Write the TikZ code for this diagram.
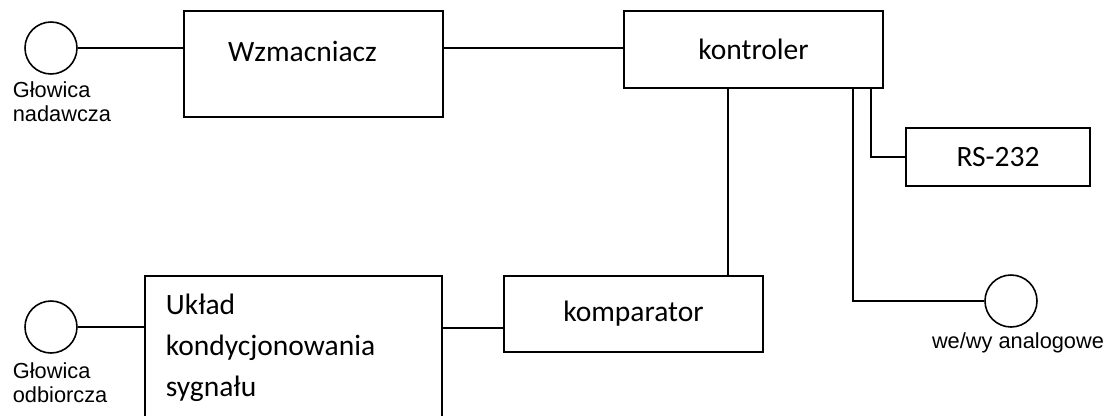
\documentclass[tikz,border=0pt]{standalone}
\usepackage{fontspec}
\setmainfont{Carlito}
\newfontfamily\arialf{Liberation Sans}
\usetikzlibrary{positioning, calc}

\tikzset{
    blok/.style={shape=rectangle, draw=black, line width=1pt, font=\fontsize{16.8}{23.3}\selectfont},
    glowica/.style={shape=circle, draw=black, line width=0.9pt, minimum size=1.04cm, inner sep=0pt},
    opis/.style={inner sep=0pt, align=left, font=\arialf\fontsize{12.4}{13.4}\selectfont},
}

\begin{document}
\begin{tikzpicture}[line width=1pt]
        \useasboundingbox (0,0) rectangle (22.2,8.3);
        \clip (0,0) rectangle (22.2,8.3);

        \node[glowica] (glowN) at (1.02,7.34) {};
        \node[opis, anchor=north west] (opisN) at (0.24,6.68) {Głowica\\nadawcza};
        \node[glowica] (glowO) at (1.02,1.76) {};
        \node[opis, anchor=north west] (opisO) at (0.24,1.06) {Głowica\\odbiorcza};

        \node[blok, minimum width=5.18cm, minimum height=2.12cm, text depth=0.51cm] (wzm) at (6.27,7.02) {Wzmacniacz\hspace*{0.44cm}};
        \node[blok, minimum width=5.18cm, minimum height=1.54cm] (kont) at (15.07,7.31) {kontroler};
        \node[blok, minimum width=3.68cm, minimum height=1.16cm] (rs) at (19.96,5.16) {RS-232};
        \node[blok, minimum width=5.18cm, minimum height=1.52cm] (komp) at (12.67,2.02) {komparator};
        \node[blok, anchor=north west, inner xsep=0.42cm, inner ysep=0.36cm, text width=5.1cm, align=left] (ukl) at (2.88,2.8) {Układ\\kondycjonowania\\sygnału};

        \node[glowica] (weWy) at (20.22,2.28) {};
        \node[opis, anchor=base] (opisW) at (20.36,1.34) {we/wy analogowe};

        \path[-] (glowN.east) edge (glowN.east -| wzm.west);
        \path[-] (glowN.east -| wzm.east) edge (glowN.east -| kont.west);
        \path[-] ([xshift=-0.72cm]komp.north east) edge ([xshift=-0.72cm]komp.north east |- kont.south);
        \draw ([xshift=-0.26cm]kont.south east) |- (rs.west);
        \draw ([xshift=-0.62cm]kont.south east) |- (weWy.west);
        \path[-] (glowO.east) edge (glowO.east -| ukl.west);
        \path[-] ([yshift=-0.28cm]komp.west) edge ([yshift=-0.28cm]komp.west -| ukl.east);

    \end{tikzpicture}
\end{document}
